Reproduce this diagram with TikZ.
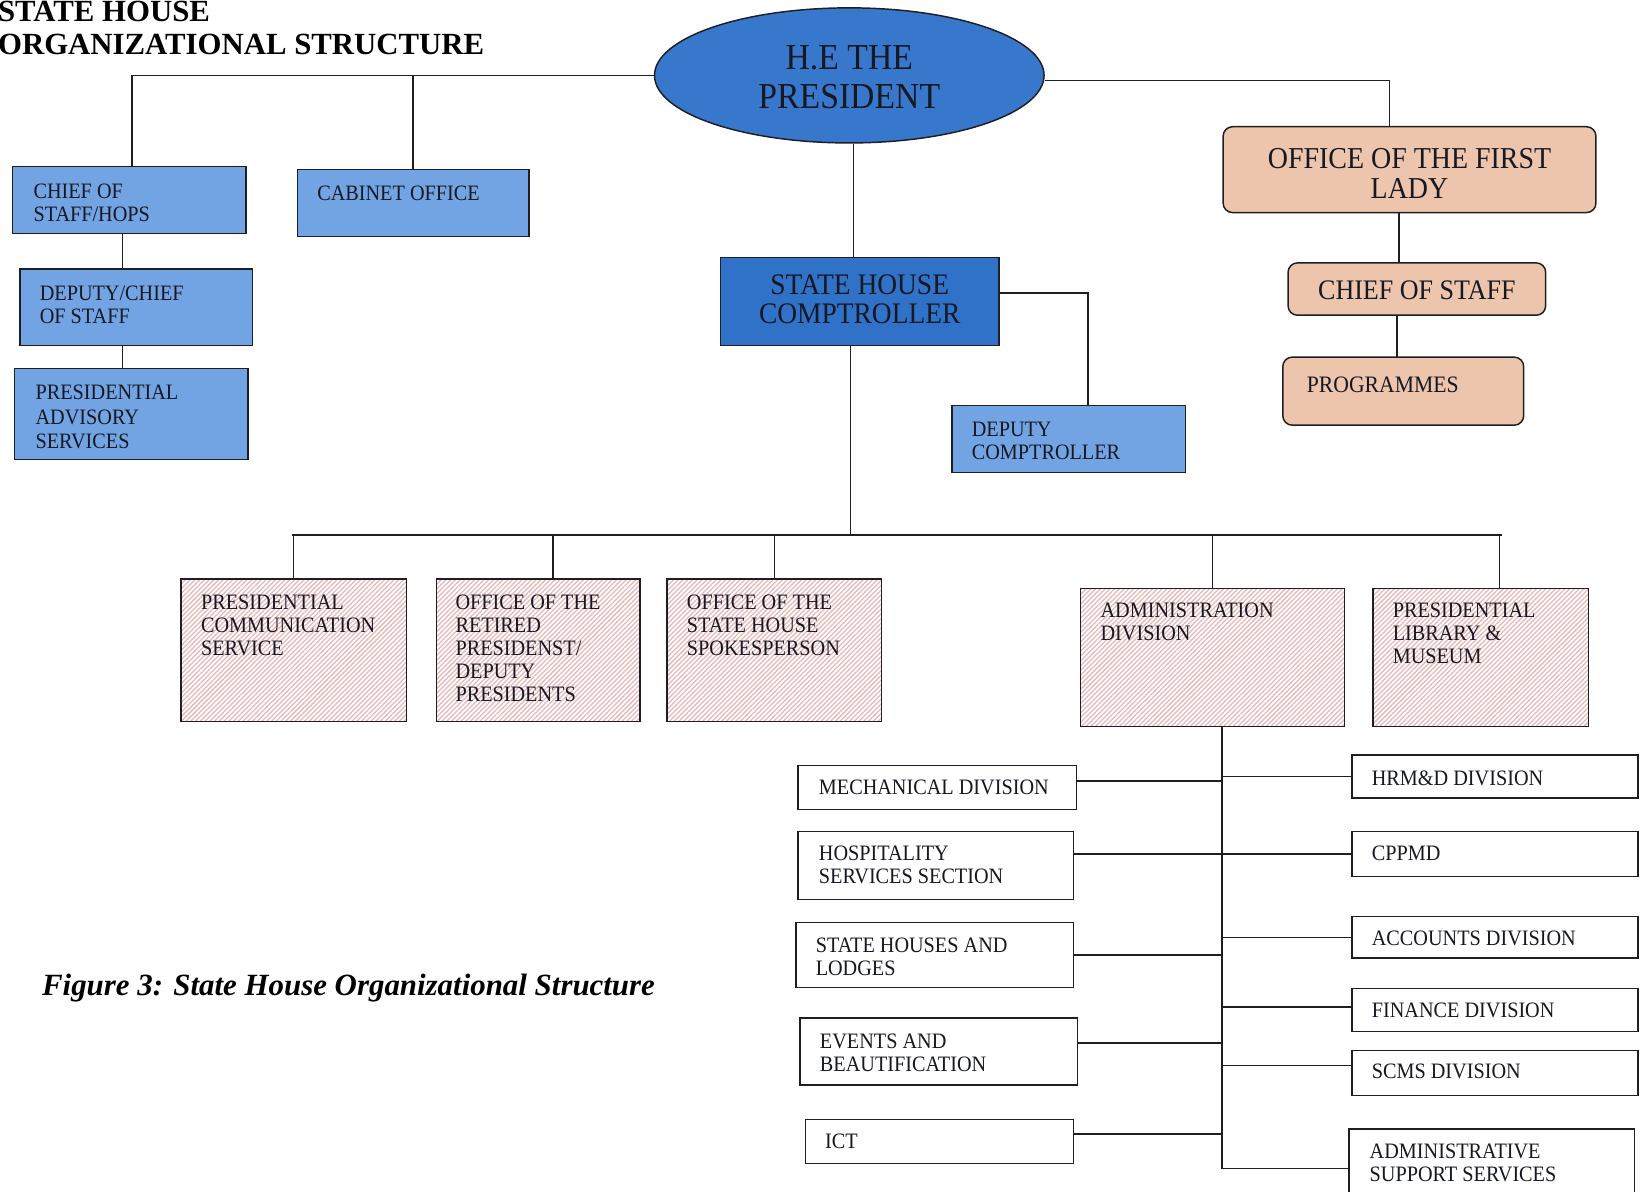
\documentclass[tikz,border=0pt]{standalone}
\usepackage{fontspec}
\setmainfont[FakeStretch=0.92]{Liberation Serif}
\newfontfamily\ttlfont{Liberation Serif}
\usetikzlibrary{patterns.meta,shapes.geometric,calc}

\definecolor{presblue}{RGB}{56,120,204}
\definecolor{compblue}{RGB}{47,114,200}
\definecolor{lightblue}{RGB}{114,164,228}
\definecolor{peach}{RGB}{237,196,172}
\definecolor{hatchcol}{RGB}{232,182,182}
\definecolor{ink}{RGB}{22,24,34}
\definecolor{edgecol}{RGB}{30,30,35}

\tikzset{
 boxbase/.style={draw=edgecol, line width=1.4pt, inner sep=0pt, outer sep=0pt, anchor=north west},
 bluebox/.style={boxbase, fill=lightblue},
 compbox/.style={boxbase, fill=compblue},
 peachbox/.style={boxbase, fill=peach, rounded corners=9pt},
 hatchbox/.style={boxbase, preaction={fill=white}, pattern={Lines[angle=45,distance=3.2pt,line width=1.2pt]}, pattern color=hatchcol},
 plainbox/.style={boxbase, fill=white},
 conn/.style={draw=edgecol, line width=1.4pt},
 txt/.style={text=ink, inner sep=0pt, outer sep=0pt, anchor=north west, align=left, font=\fontsize{21}{22}\selectfont},
 ctxt/.style={text=ink, inner sep=0pt, outer sep=0pt, align=center},
}
\newcommand\mkbox[6]{\node[#6, minimum width={#3pt-#1pt}, minimum height={#4pt-#2pt}] (#5) at (#1,#2) {};}
\newcommand\mktxt[4]{\node[txt] (#1) at (#2,#3) {#4};}

\begin{document}
\begin{tikzpicture}[x=1pt,y=-1pt]
\useasboundingbox (0,0) rectangle (1568,1138);

% title
\node[anchor=base west, inner sep=0pt, font=\ttlfont\bfseries\fontsize{29.4}{30}\selectfont] (t1) at (-2,20.5) {STATE HOUSE};
\node[anchor=base west, inner sep=0pt, font=\ttlfont\bfseries\fontsize{29.4}{30}\selectfont] (t2) at (-2,52) {ORGANIZATIONAL STRUCTURE};

% president
\node[ellipse, draw=edgecol, line width=1.4pt, fill=presblue, minimum width=372pt, minimum height=129pt, inner sep=0pt] (pres) at (811,72) {};
\node[ctxt, font=\fontsize{35}{37}\selectfont] (pres-t) at (811,73.5) {H.E THE\\PRESIDENT};

% left group
\mkbox{12}{159}{235}{223}{cos}{bluebox}
\mkbox{284}{162}{505}{226}{cab}{bluebox}
\mkbox{19}{257}{241}{330}{dcs}{bluebox}
\mkbox{14}{352}{237}{439}{pas}{bluebox}
\mktxt{cos-t}{32}{176}{CHIEF OF\\STAFF/HOPS}
\mktxt{cab-t}{303}{178}{CABINET OFFICE}
\mktxt{dcs-t}{38}{273}{DEPUTY/CHIEF\\OF STAFF}
\node[txt, font=\fontsize{21}{23}\selectfont] (pas-t) at (34,368) {PRESIDENTIAL\\ADVISORY\\SERVICES};

% comptroller
\mkbox{688}{246}{954}{330}{comp}{compbox}
\node[ctxt, font=\fontsize{28.5}{28}\selectfont] (comp-t) at (821,286) {STATE HOUSE\\COMPTROLLER};
\mkbox{909}{387}{1132}{451}{dcomp}{bluebox}
\mktxt{dcomp-t}{928}{403}{DEPUTY\\COMPTROLLER}

% first lady
\mkbox{1168}{121}{1524}{203}{fl}{peachbox}
\node[ctxt, font=\fontsize{29}{29}\selectfont] (fl-t) at (1346,165.5) {OFFICE OF THE FIRST\\LADY};
\mkbox{1230}{251}{1476}{301}{cos2}{peachbox}
\node[ctxt, font=\fontsize{27}{27}\selectfont] (cos2-t) at (1353,277) {CHIEF OF STAFF};
\mkbox{1225}{341}{1455}{406}{prog}{peachbox}
\node[txt, font=\fontsize{22.5}{22}\selectfont] (prog-t) at (1248,359.5) {PROGRAMMES};

% hatched row
\mkbox{173}{553}{388}{689}{pcs}{hatchbox}
\mkbox{417}{553}{611}{689}{ret}{hatchbox}
\mkbox{637}{553}{842}{689}{spk}{hatchbox}
\mkbox{1032}{562}{1284}{694}{adm}{hatchbox}
\mkbox{1311}{562}{1517}{694}{lib}{hatchbox}
\mktxt{pcs-t}{192}{568}{PRESIDENTIAL\\COMMUNICATION\\SERVICE}
\mktxt{ret-t}{435}{568}{OFFICE OF THE\\RETIRED\\PRESIDENST/\\DEPUTY\\PRESIDENTS}
\mktxt{spk-t}{656}{568}{OFFICE OF THE\\STATE HOUSE\\SPOKESPERSON}
\mktxt{adm-t}{1051}{576}{ADMINISTRATION\\DIVISION}
\mktxt{lib-t}{1330}{576}{PRESIDENTIAL\\LIBRARY \&\\MUSEUM}

% admin sub-units
\mkbox{762}{731}{1028}{773}{mech}{plainbox}
\mkbox{762}{794}{1025}{859}{hosp}{plainbox}
\mkbox{760}{881}{1025}{943}{shl}{plainbox}
\mkbox{764}{972}{1029}{1036}{evt}{plainbox}
\mkbox{769}{1069}{1025}{1111}{ict}{plainbox}
\mkbox{1291}{721}{1564}{762}{hrm}{plainbox}
\mkbox{1291}{794}{1564}{837}{cpp}{plainbox}
\mkbox{1291}{875}{1564}{915}{acc}{plainbox}
\mkbox{1291}{944}{1564}{985}{fin}{plainbox}
\mkbox{1291}{1003}{1564}{1046}{scms}{plainbox}
\mkbox{1288}{1078}{1561}{1150}{ass}{plainbox}
\mktxt{mech-t}{782}{745}{MECHANICAL DIVISION}
\mktxt{hosp-t}{782}{808}{HOSPITALITY\\SERVICES SECTION}
\mktxt{shl-t}{779}{896}{STATE HOUSES AND\\LODGES}
\mktxt{evt-t}{783}{987}{EVENTS AND\\BEAUTIFICATION}
\mktxt{ict-t}{788}{1083}{ICT}
\mktxt{hrm-t}{1310}{736}{HRM\&D DIVISION}
\mktxt{cpp-t}{1310}{808}{CPPMD}
\mktxt{acc-t}{1310}{889}{ACCOUNTS DIVISION}
\mktxt{fin-t}{1310}{958}{FINANCE DIVISION}
\mktxt{scms-t}{1310}{1016}{SCMS DIVISION}
\mktxt{ass-t}{1308}{1092}{ADMINISTRATIVE\\SUPPORT SERVICES}

% caption
\node[anchor=base west, inner sep=0pt, font=\ttlfont\bfseries\itshape\fontsize{29.5}{30}\selectfont] (cap) at (40,951) {Figure 3: State House Organizational Structure};

% connectors
\draw[conn] (pres.west) -| ([xshift=2.5pt]cos.north);
\draw[conn] (cab.north) -- (cab.north |- pres.west);
\draw[conn] ([xshift=-6.5pt]cos.south) -- ([xshift=-6.5pt]cos.south |- dcs.north);
\draw[conn] ([xshift=-13pt]dcs.south) -- ([xshift=-13pt]dcs.south |- pas.north);
\draw[conn] ([yshift=-5pt]pres.east) -| ([xshift=-19pt]fl.north);
\draw[conn] ([xshift=-10pt]fl.south) -- ([xshift=-10pt]fl.south |- cos2.north);
\draw[conn] ([xshift=-19pt]cos2.south) -- ([xshift=-19pt]cos2.south |- prog.north);
\draw[conn] ([xshift=4pt]pres.south) -- ([xshift=4pt]pres.south |- comp.north);
\draw[conn] ([yshift=8pt]comp.east) -| ([xshift=18.5pt]dcomp.north);

\coordinate (busL) at (279,511);
\coordinate (busR) at (1434,511);
\draw[conn] ([xshift=-9pt]comp.south) -- ([xshift=-9pt]comp.south |- busL);
\draw[conn] (busL) -- (busR);
\draw[conn] (pcs.north) -- (pcs.north |- busL);
\draw[conn] ([xshift=14pt]ret.north) -- ([xshift=14pt]ret.north |- busL);
\draw[conn] (spk.north) -- (spk.north |- busL);
\draw[conn] (adm.north) -- (adm.north |- busL);
\draw[conn] ([xshift=18pt]lib.north) -- ([xshift=18pt]lib.north |- busL);

\coordinate (spB) at (1167,1116);
\draw[conn] ([xshift=9pt]adm.south) -- (spB) -- (ass.west |- spB);
\draw[conn] ([yshift=6pt]mech.east) -- ([yshift=6pt]mech.east -| spB);
\draw[conn] (hosp.east |- cpp.west) -- (cpp.west);
\draw[conn] (shl.east) -- (shl.east -| spB);
\draw[conn] ([yshift=8pt]evt.east) -- ([yshift=8pt]evt.east -| spB);
\draw[conn] ([yshift=7pt]ict.east) -- ([yshift=7pt]ict.east -| spB);
\draw[conn] (hrm.west) -- (hrm.west -| spB);
\draw[conn] (acc.west) -- (acc.west -| spB);
\draw[conn] ([yshift=3pt]fin.west) -- ([yshift=3pt]fin.west -| spB);
\draw[conn] ([yshift=7pt]scms.west) -- ([yshift=7pt]scms.west -| spB);
\end{tikzpicture}
\end{document}
